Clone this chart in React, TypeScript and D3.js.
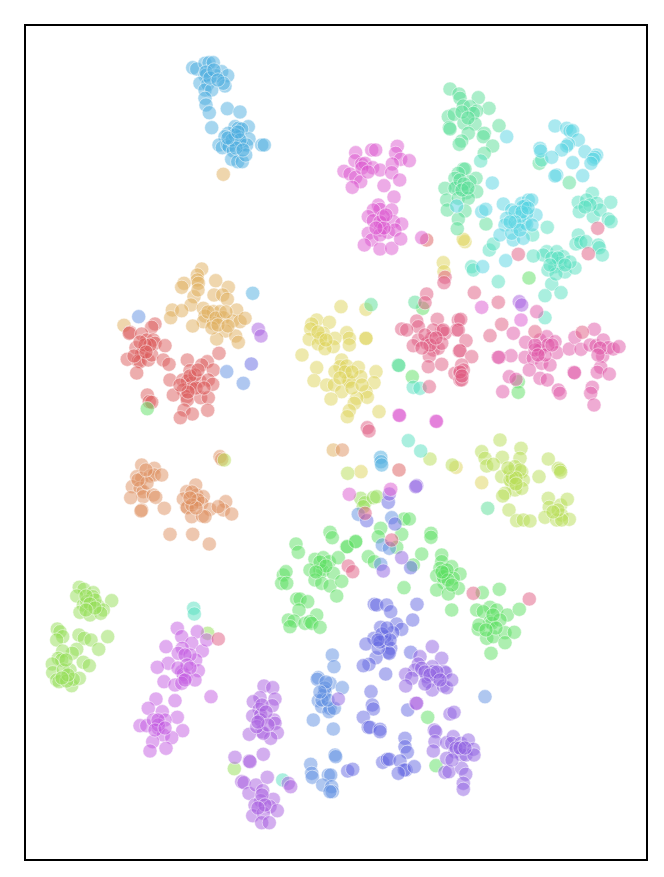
import React from 'react';
import * as d3 from 'd3';

type Pt = [number, number];

// embedding coordinates, one list per class
const sky: Pt[] = [[192.7,67.7],[196.7,69],[205,63.3],[209,62.7],[213.3,62.7],[221.7,71.7],[227.7,75.7],[205,75.7],[206.7,75],[216,75.7],[200,83.3],[207.7,84.3],[225,86],[223.3,83.3],[205,90],[211.7,90],[205,98.3],[206,105],[209.3,112.7],[227.3,108.7],[240,112],[211.7,127.7],[235,126.7],[238.3,128.3],[248.3,126.7],[241.7,129],[228.3,133.3],[225,136.7],[249,139],[238.3,136.7],[219,145],[222.3,147.7],[227.7,145],[229,146.7],[233.3,151],[241.7,145],[246.7,145],[231.7,159.3],[237.7,161.7],[242.3,161.7],[245.7,155],[261.7,145],[264.3,145],[252.7,293.3],[380.7,457.3],[381,461.7],[381.7,465],[206,72],[210,78],[214,70],[218,80],[235,135],[232,140],[240,140],[236,148],[243,150],[228,138],[238,132]];
const tan: Pt[] = [[223.3,174.3],[201.7,269],[197.3,275],[197.3,280],[198.3,283.3],[184,283.3],[181.7,287.3],[215.7,280.7],[228.3,287.3],[214,295],[222.7,295],[227.3,299.3],[194,296.7],[191,305],[172.3,310],[170.7,317.7],[181.7,310.7],[203.3,308.3],[213.3,311.7],[220,311.7],[205,316],[203.3,321.7],[223.3,317.7],[236.7,310],[232.7,321],[240,321.7],[245,318.3],[213.3,323.3],[225.7,331],[192.7,326],[216.7,339],[235.7,336],[238.3,342.3],[124,325.3],[333.3,450],[208,312],[216,318],[226,312],[212,328],[218,325],[228,326],[198,290]];
const red: Pt[] = [[155,324],[151.7,327.3],[130,332.3],[129.3,333.3],[141.7,334],[146.7,340],[153.3,340],[155,343.3],[165,345.7],[136,347.7],[143.3,351.7],[141.7,353.3],[127.3,359.3],[138.3,361],[140,361.7],[148.3,360],[151.7,355],[163.3,360],[169,364.3],[136.7,373],[219,353.3],[187.3,360],[207.3,361.7],[201.7,365],[190,370.7],[213.3,370],[170,380],[182.7,380],[187.3,381],[191.7,383.3],[200,381],[208.3,380],[212.7,384.3],[183.3,390],[191.7,388.3],[173.3,395],[186.7,396.7],[187.3,400],[200.7,397.7],[208.3,397.7],[184,410],[192.3,414],[207.7,410.3],[180.3,417.7],[147.3,395],[149.3,401.7],[151.7,402.3],[399,470],[426.7,240],[145,345],[150,345],[140,342],[134,356],[146,352],[195,375],[190,376],[196,388],[204,388],[188,392],[180,385],[198,370]];
const orange: Pt[] = [[141.7,465],[154.3,468.3],[136.7,476.7],[141.7,478.3],[150,476],[154.3,475],[161.7,475],[132.3,486.7],[140,488.3],[143.3,491.7],[143.3,496.7],[130.7,497.7],[153.3,495],[155.7,497.3],[141.7,510],[141,511],[164.3,508.3],[195.7,485],[186.7,491.7],[183.3,499],[196.7,495],[203.3,496.7],[195,501.7],[201.7,503.3],[186.7,506.7],[187.3,507.7],[210,509.3],[191.7,516.7],[202.3,516],[205,516.7],[225.7,501.7],[223.3,510],[231.7,514],[218.3,506.7],[170,534.3],[192.7,534.3],[209.3,544],[220,456.7],[221.7,459.3],[342.3,450],[147,483],[138,480],[146,470],[192,492],[198,500],[192,505],[196,508],[190,498]];
const yellow: Pt[] = [[465,241.7],[463.3,239.3],[443.3,262.7],[444,271.7],[341,306.7],[366,309.3],[316.7,320],[311.7,324],[310.7,329],[329.3,322.3],[323.3,333.3],[346.7,332.7],[349.3,338.3],[309.3,339.3],[320.7,338.3],[318.3,344],[335,338.3],[333.3,346.7],[325,348.7],[349.3,345],[366,338],[366,338.5],[302,355],[341.7,360],[316.7,367.7],[314,380.7],[340,366.7],[346.7,366],[335,371.7],[358.3,367.3],[376,371.7],[348.3,380],[360.7,376.7],[326.7,385],[334.3,385],[341.7,391.7],[349.3,381.7],[374,382.7],[366,391.7],[367.3,397.3],[356.7,398.3],[331,399],[354.3,403.3],[349.3,410.7],[347.3,416.7],[379,411.7],[361,471.7],[456,467.3],[481.7,482.7],[318,332],[326,340],[345,372],[352,372],[340,378],[352,388],[362,385]];
const lime: Pt[] = [[224.3,460],[347.7,473.3],[430,459],[452.3,465],[500,440],[481.7,451.7],[485,458.3],[502.3,457.3],[521,448.3],[520,458.3],[486.7,466],[493.3,464.3],[501.7,476.7],[510,471.7],[515,466.7],[521.7,471.7],[523.3,480],[511.7,483.3],[515,490],[521.7,488.3],[505,493.3],[502.7,496],[539,476.7],[548.3,459],[558.3,468.3],[560,470],[560.7,472.3],[509,510],[516.7,520.7],[523.3,520],[530,521],[548.3,498.3],[549.3,507.3],[560.7,505],[567.3,499.3],[545,517.3],[561.7,515],[556.7,520],[569.3,519.3],[561.7,520],[510,480],[520,470],[512,478],[516,478],[508,468],[516,484],[558,510],[553,512]];
const leaf: Pt[] = [[79.3,587.3],[84,589.3],[93.3,592.7],[76.7,596],[92.7,596.7],[111.7,600.7],[83.3,605],[80,612.3],[90,615],[98.3,606],[103.3,610],[100.7,613.3],[86.7,601.7],[95,600],[57.3,629],[60,631.7],[62.7,636.7],[56.7,640],[79,635],[84.3,638.3],[91,640],[107.7,636.7],[98.7,649.3],[76.7,649.3],[72.3,653.3],[62.7,651],[58.3,658.3],[61.7,660],[83.3,662.3],[89.3,665.7],[52.3,664],[70,670],[52.7,672.7],[63.3,670],[56.7,680],[59,681.7],[71.7,685.7],[79.3,678.3],[73.3,679.3],[66.7,681],[207.7,633.3],[234.3,768.7],[360.7,498.3],[365,502.7],[373.3,497.7],[376.7,496.7],[363.3,506.7],[86,596],[90,604],[95,608],[86,610],[66,660],[68,675],[62,678]];
const green: Pt[] = [[147.3,408.7],[529,278],[518.3,381.7],[518.3,392.3],[422.7,308.3],[412.3,376.7],[404,519],[409.3,519],[401.7,534.3],[380.7,528.3],[378.3,536.7],[431,533.3],[431,537.3],[396.7,547.3],[355.7,541.3],[346.7,546.7],[368.3,556.7],[374.3,561.7],[421.7,554],[413.3,565],[441.7,555],[441.7,561.7],[440,568.3],[451.7,566.7],[436.7,575.7],[445,573.3],[460,574],[444,582.7],[453.3,578.3],[458.3,588.3],[436.7,590],[448.3,594],[443.3,576.7],[404,587.7],[482.3,592.7],[499.3,589.3],[330,532.3],[332.3,537.7],[296,544],[298.3,552.3],[347.3,546.7],[355.7,541.7],[315,559.3],[323.3,557.7],[329.3,561.7],[338.3,557.7],[320,570],[310,570],[322.7,571],[333.3,573.3],[315,580],[321.7,583.3],[330,586],[341.7,581.3],[336.7,596],[283.3,575],[286,571.7],[281.7,583.3],[286.7,583.3],[296.7,599],[300,599],[307.7,601.7],[299,610],[288.3,620],[294,621],[290,626.7],[305,623.3],[316.7,615],[310,621.7],[311.7,623.3],[320,627.3],[476.7,610],[490,607.3],[483.3,611.7],[496.7,610],[507.3,615],[519.3,609.3],[478.3,629.3],[490,621.7],[491.7,623.3],[500,620],[486.7,638.3],[493.3,636.7],[505,632.7],[514.3,632.3],[505,642.7],[491,653.3],[451.7,610],[479,625],[427.7,717.3],[436,765.7],[320,562],[326,566],[316,572],[447,570],[448,580],[442,572],[452,585],[493,615],[496,628],[486,630]];
const sea: Pt[] = [[450,89],[459,94],[460,98.3],[463.3,106],[478.3,97.7],[489,108.3],[470,106.7],[476.7,111],[473.3,113.3],[448.3,116.7],[454.3,114.3],[449.3,127.7],[450,129],[464,123.3],[475,124],[468.3,133.3],[484.3,133.3],[483.3,136.7],[461.7,141],[459.3,144.3],[499,125.7],[492.7,146],[484.3,153.3],[463.3,169],[465,169],[458.3,173.3],[455,178.3],[476,178.3],[470,181.7],[456.7,186.7],[445,188.3],[455,188.3],[466.7,192.7],[476.7,191.7],[446.7,200],[458.3,198.3],[468.3,198.3],[447.3,210],[465,211],[458.3,219],[457.3,228.7],[486,224],[539.3,163.3],[569.3,182.7],[415,302.3],[371,304.7],[398.3,365],[398.8,365.5],[487.7,508.3],[462,112],[468,118],[460,180],[464,184],[462,190],[468,188]];
const teal: Pt[] = [[480.7,161],[541.7,160],[547.3,227.3],[532.7,235],[592.3,193.3],[578.3,202.3],[586.7,200],[596.7,203.3],[610.7,202.3],[579.3,211.7],[593.3,216.7],[600,210],[608.3,219],[611,221.7],[578.3,235],[576,244],[580.7,242.3],[586,241.7],[598.3,245],[599.3,247.7],[602.3,255],[546.7,251.7],[556.7,251.7],[563.3,256.7],[543.3,255],[555,266.7],[560,263.3],[533.3,256],[489.3,250],[493.3,244],[471.7,266.7],[473.3,270],[498.3,281.7],[551.7,284],[545,295.7],[561,292.7],[545,317.7],[565,272],[575,268],[548,270],[556,274],[570,262],[413.3,387.3],[420,388.3],[408.3,440.7],[420.7,451],[193.7,608.3],[194.3,614],[282.7,780],[552,258],[558,258],[550,265],[565,265],[590,205],[585,207]];
const cyan: Pt[] = [[506.7,136.7],[555,126],[566.7,128.3],[570,131],[572.7,130.7],[578.3,140],[568.3,144],[566.7,146],[561.7,150],[540,148.3],[540.7,151],[551.7,157.3],[585,151.7],[596.7,155],[595,157.3],[593.3,159.3],[591,163.3],[572.7,162.7],[556.7,175],[555,176],[582.7,175.7],[456.7,206],[492.3,183],[481.7,211.7],[485.7,209.3],[503.3,204],[521.7,203.3],[528.3,200],[531.7,200],[525,206],[522.7,206.7],[536,215],[511.7,210],[506.7,218.3],[505,225],[516.7,226.7],[525,222.7],[526.7,224],[500,235],[513.3,240],[523.3,238.3],[511.7,233.3],[526.7,213.3],[520,216.7],[505.7,260.7],[482.7,266.7],[515,212],[522,212],[528,208],[515,222],[520,230],[510,222],[532,225]];
const blue: Pt[] = [[138.7,316.7],[226.7,371.7],[243.3,383.3],[358.3,514.3],[391.7,517.7],[382.3,545],[389.3,548.3],[380.7,564.3],[332.3,655],[334,666.7],[318.3,677.7],[317.3,679.3],[330,683.3],[342.3,687.7],[325,691.7],[324,695],[318.3,700.7],[321.7,706.7],[330,708.3],[329,711.7],[334.3,708.3],[313.3,720],[333.3,729],[485,696.7],[310.7,764.3],[311.7,773.3],[312.3,777.3],[335,755],[335.7,756.7],[328.3,775],[330.7,775],[322.7,785],[331.7,786.7],[332.3,791.7],[330,791.7],[325,688],[322,700],[328,700],[326,682],[320,692]];
const indigo: Pt[] = [[251.3,364],[388.3,502.3],[366.7,520.7],[395,524],[374.3,604.3],[376.7,605],[386.7,605],[390.7,611.7],[417,604.3],[412.7,620],[396.7,624],[401.7,629.3],[380.7,627.3],[392.7,632.7],[374,638.3],[366,644],[386.7,642.7],[390.7,648.3],[388.3,652.3],[389.3,653.3],[376,657.7],[385,636.7],[378.3,648.3],[369,664.3],[363.3,665.7],[385.7,674],[410.7,652.3],[371,691.7],[372.3,705],[373.3,709],[363.3,717.3],[368.3,727.3],[370,727.3],[380,729.3],[380,731.7],[407.7,710],[405,738.3],[405,746.7],[407.3,752.3],[382.7,762.3],[387.3,759.3],[389.3,759.3],[400,761],[406,770],[404.3,770],[414.3,766.7],[398.3,773.3],[347.7,771],[352.7,769.3],[410.7,567.7],[382,634],[387,628],[380,642],[390,640],[378,640]];
const violet: Pt[] = [[432.3,646.7],[420,656.7],[441.7,658.3],[418.3,664],[415,670],[405.7,674.3],[411.7,678.3],[405.7,686],[426.7,676.7],[432.3,666.7],[444,671.7],[445.7,672.7],[428.3,681.7],[438.3,678.3],[432.3,690],[443.3,686],[446.7,687.7],[451.7,680],[433.3,671.7],[421.7,668.3],[338.3,699],[450,714],[454,712.3],[434.3,730],[435.7,731.7],[435,741.7],[433.3,751],[446.7,742.7],[453.3,736.7],[451.7,743.3],[461,743.3],[468.3,740],[455,751.7],[461.7,755],[466,755],[473.3,749.3],[474,755],[446.7,758.3],[445,772.3],[449,771.7],[461.7,768.3],[465.7,774.3],[463.3,783.3],[463.3,789.3],[401.7,557.7],[389.3,494],[416.7,485.7],[415.7,486.7],[383.3,571],[425,672],[430,675],[437,672],[440,680],[425,684],[456,748],[460,748],[452,760],[465,748]];
const purple: Pt[] = [[258.3,329.3],[261,336],[519.3,301.7],[521.7,305],[264,686],[272.7,687.7],[260,697.7],[253.3,701.7],[275,699],[272.3,705.7],[259.3,709.3],[252.7,716],[260.7,715],[260.7,720],[274,720],[275,723.3],[261.7,731.7],[249.3,734.3],[277.3,732.7],[270.7,738.3],[263.3,733.3],[256.7,726.7],[235,757.3],[249.3,761],[250,761.7],[263.3,754.3],[288.3,783.3],[290.7,786.7],[241.7,781.7],[244,782.7],[249,793.3],[256,785],[267.3,777.3],[262.7,790.7],[260.7,800.7],[273.3,799.3],[255,805],[270,806.7],[252.7,815.7],[263.3,813.3],[277.3,810.7],[261.7,822.7],[269.3,822.7],[416,703.3],[416.7,703.3],[262,705],[266,712],[268,725],[258,722],[262,795],[265,805],[258,808]];
const orchid: Pt[] = [[177.3,628.3],[181.7,636.7],[197.3,631.7],[191.7,643.3],[166,646.7],[182.3,648.3],[178.3,653.3],[202.3,651],[195.7,660],[168.3,663.3],[157.3,667.3],[181.7,671.7],[183.3,674.3],[185.7,677.3],[198.3,670.7],[164,681.7],[175,685],[195,680],[181.7,683.3],[211,696.7],[190,655],[206.7,640],[156,699],[175,700.7],[148.3,708.3],[162.3,711.7],[177.3,717.3],[140,725.7],[146.7,725.7],[158.3,728.3],[153.3,720],[165,720],[182.7,730.7],[163.3,735],[171.7,737.7],[152.7,741.7],[166,748.3],[150,751],[158.3,725],[185,655],[187,665],[178,668],[190,668],[185,680],[158,720],[155,730],[165,728]];
const magenta: Pt[] = [[355.7,152.7],[355,160.7],[371.7,150],[375.7,150],[361.7,164],[365,163.3],[372.7,167.7],[380,170],[344,171.3],[350,174],[355.7,177.3],[360.7,181.7],[352.3,187.3],[384,185.7],[397.3,146.3],[395.7,153.3],[400.7,159.3],[409.3,160.7],[392.3,164],[391.7,172.7],[399.7,180],[394,197],[378.3,205],[380,209.3],[391.7,210],[373.3,210],[368.3,216.7],[373.3,220.7],[382.7,223.3],[393.3,221.7],[401.7,224],[380,230],[388.3,232.3],[395,230],[368.3,233.3],[371.7,240],[364.3,245],[380,249],[391.7,248.3],[400.7,239],[380,235],[383.3,216.7],[421.7,237.7],[399,415],[399.5,415.5],[436,421],[436.5,421.5],[349.3,494.3],[390.7,489.3],[481.7,307.3],[521,320],[380,222],[384,228],[376,228],[386,215],[362,168],[368,172]];
const pink: Pt[] = [[513.3,333.3],[536.7,311.7],[525.7,342.3],[540,340],[546.7,336.7],[555,341.7],[540,348.3],[556.7,352.7],[525,357.3],[533.3,358.3],[541.7,363.3],[550,365],[529.3,370],[511,355.7],[499.3,357.3],[498.3,357.3],[540,378.3],[547.3,380],[558.3,390],[560,393.3],[509.3,376.7],[516,379.3],[502.7,391.7],[574,372.3],[574.5,372.8],[569.3,349],[575,337.3],[594.3,329.3],[581,349.3],[590,345],[596,345.7],[603.3,340],[602.7,356],[608.3,347.7],[613.3,349],[619,346.7],[600.7,367.3],[597.3,372.3],[609.3,374],[592.3,387.3],[590.7,393.3],[594,405],[540,350],[548,345],[535,350],[535,345],[545,355],[552,345],[538,355],[600,348],[598,355]];
const rose: Pt[] = [[597.7,228.3],[588.3,253.7],[518.3,254.3],[426.7,294],[425,302.7],[416.7,321],[418.3,326.7],[401.7,329],[406.7,330],[437.3,319.3],[441.7,331],[445,333.3],[433.3,330],[418.3,340],[413.3,345.7],[426.7,343.3],[431.7,338.3],[433.3,350],[438.3,348.3],[441.7,343.3],[429.3,356],[428.3,366.7],[441.7,364.3],[429.3,386.7],[445,277.3],[444,282.7],[458.3,320],[456.7,330],[459.3,351],[455,373.3],[460,373.3],[460,380],[460.7,319.3],[458.3,330],[466,340.7],[460,350.7],[471.7,356.7],[461.7,365],[463.3,370],[461.7,380],[443.3,330],[474.3,292.7],[498.3,302.3],[501.7,324.3],[490,335.7],[535,331.7],[582.3,332.3],[367.3,427.7],[369,431],[365,513.3],[391.7,540],[348.3,566],[352.7,571.7],[473.3,593.3],[529.3,599],[218.3,639],[425,335],[430,345],[436,338],[422,348],[460,372],[462,376]];

const seriesList: [Pt[], string][] = [
  [sky, '#4dade0'], [tan, '#dfae5c'], [red, '#dc5c5c'], [orange, '#de8f5f'],
  [yellow, '#ddd35a'], [lime, '#b8dd55'], [leaf, '#93de55'], [green, '#5cdf62'],
  [sea, '#58de96'], [teal, '#55dfc0'], [cyan, '#55d3e2'], [blue, '#5f90e2'],
  [indigo, '#6468e2'], [violet, '#8f62e2'], [purple, '#a85ee0'], [orchid, '#c45ce2'],
  [magenta, '#dc58d0'], [pink, '#e058a8'], [rose, '#e05c82'],
];

const domainX = [25, 647];
const domainY = [25, 860];

export default function App() {
  const x = d3.scaleLinear().domain(domainX).range(domainX);
  const y = d3.scaleLinear().domain(domainY).range(domainY);

  return (
    <svg width={664} height={877} style={{ position: 'absolute', left: 0, top: 0 }}>
      <rect x={0} y={0} width={664} height={877} fill="#fff" />
      {seriesList.map(([pts, color], i) => (
        <g key={i}>
          {pts.map((d, j) => (
            <circle
              key={j}
              cx={x(d[0])}
              cy={y(d[1])}
              r={7.1}
              fill={color}
              fillOpacity={0.5}
              stroke="#fff"
              strokeOpacity={0.5}
              strokeWidth={1}
            />
          ))}
        </g>
      ))}
      <rect
        x={x(domainX[0])}
        y={y(domainY[0])}
        width={x(domainX[1]) - x(domainX[0])}
        height={y(domainY[1]) - y(domainY[0])}
        fill="none"
        stroke="#000"
        strokeWidth={2}
      />
    </svg>
  );
}
